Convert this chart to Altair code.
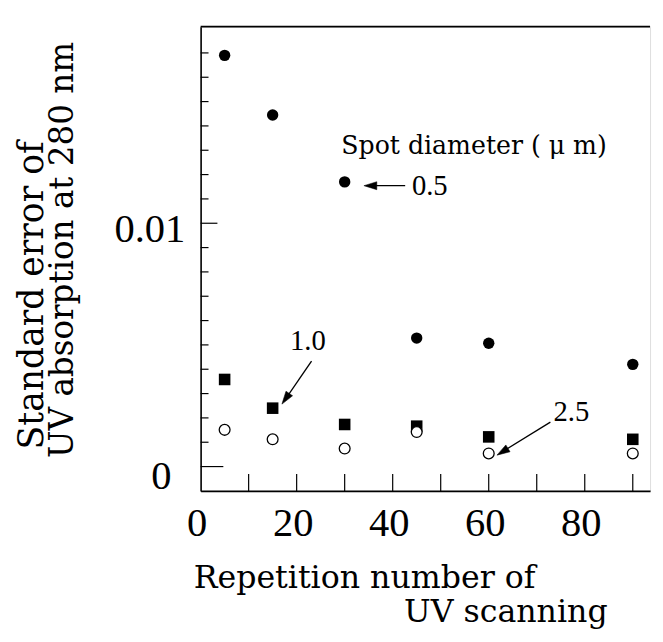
import altair as alt
import pandas as pd

# ---- data ----
reps = [5, 15, 30, 45, 60, 90]
se_05 = [0.0169, 0.01445, 0.0117, 0.00528, 0.00507, 0.0042]   # 0.5 um (filled circles)
se_10 = [0.00358, 0.0024, 0.00173, 0.00166, 0.00122, 0.00112]  # 1.0 um (filled squares)
se_25 = [0.00151, 0.00112, 0.00074, 0.00142, 0.00054, 0.00054]  # 2.5 um (open circles)

x_label_values = [0, 20, 40, 60, 80]
y_label_values = [0, 0.01]
x_tick_values = [10, 20, 30, 40, 50, 60, 70, 80, 90]
y_minor_ticks = [0.001, 0.002, 0.003, 0.004, 0.005, 0.006, 0.007, 0.008, 0.009,
                 0.011, 0.012, 0.013, 0.014, 0.015, 0.016, 0.017]
y_major_ticks = [0.01]
y_zero_tick = [0]

# annotations (data units)
ann_text = ["Spot diameter ( \u03bc m)", "0.5", "1.0", "2.5"]
ann_x = [29.3, 44.0, 18.6, 73.5]
ann_y = [0.01286, 0.01118, 0.0048, 0.00189]
ann_size = [25.5, 29, 29, 29]
ann_font = ["DejaVu Serif", "Liberation Serif", "Liberation Serif", "Liberation Serif"]

arrow_id = ["a", "a", "b", "b", "c", "c"]
arrow_x = [42.6, 35.35, 23.1, 17.7, 72.84, 62.86]
arrow_y = [0.011543, 0.011543, 0.00433, 0.002785, 0.001827, 0.000609]
head_x = [35.35, 17.7, 62.86]
head_y = [0.011543, 0.002785, 0.000609]
head_angle = [270, 214.7, 238.3]

W, H = 455, 470
X_DOMAIN = [0, 93.6]
Y_DOMAIN = [-0.001, 0.01808]

xs = alt.Scale(domain=X_DOMAIN, nice=False, zero=False)
ys = alt.Scale(domain=Y_DOMAIN, nice=False, zero=False)

x_axis = alt.Axis(
    values=x_label_values, ticks=False, grid=False, title=None,
    labelFont="Liberation Serif", labelFontSize=41, labelColor="black",
    labelPadding=13, labelOffset=-4, labelFlush=False, labelOverlap=False,
    domainColor="black", domainWidth=1.6,
)
y_axis = alt.Axis(
    values=y_label_values, format=".2~f", ticks=False, grid=False, title=None,
    labelFont="Liberation Serif", labelFontSize=41, labelColor="black",
    labelAlign="right", labelBaseline="middle", labelFlush=False, labelOverlap=False,
    labelPadding={"condition": {"test": "datum.value === 0", "value": 30}, "value": 16},
    labelOffset={"condition": {"test": "datum.value === 0", "value": 10}, "value": 6.5},
    domainColor="black", domainWidth=1.6,
)


def X(field):
    return alt.X(field, type="quantitative", scale=xs, axis=x_axis)


def Y(field):
    return alt.Y(field, type="quantitative", scale=ys, axis=y_axis)


pts = pd.DataFrame({"rep": reps, "s05": se_05, "s10": se_10, "s25": se_25})

filled = alt.Chart(pts).mark_circle(size=133, color="black", opacity=1).encode(x=X("rep"), y=Y("s05"))
squares = alt.Chart(pts).mark_square(size=137, color="black", opacity=1).encode(x=X("rep"), y=Y("s10"))
opens = alt.Chart(pts).mark_point(
    shape="circle", size=120, filled=True, fill="white", stroke="black", strokeWidth=1.3,
    opacity=1, fillOpacity=1,
).encode(x=X("rep"), y=Y("s25"))

# inward ticks
ymin = alt.Chart(pd.DataFrame({"v": y_minor_ticks})).mark_rule(color="black", strokeWidth=1.2).encode(
    y=Y("v"), x=alt.value(0), x2=alt.value(8))
ymaj = alt.Chart(pd.DataFrame({"v": y_major_ticks})).mark_rule(color="black", strokeWidth=1.2).encode(
    y=Y("v"), x=alt.value(0), x2=alt.value(17))
yzero = alt.Chart(pd.DataFrame({"v": y_zero_tick})).mark_rule(color="black", strokeWidth=1.2).encode(
    y=Y("v"), x=alt.value(0), x2=alt.value(23))
xt = alt.Chart(pd.DataFrame({"v": x_tick_values})).mark_rule(color="black", strokeWidth=1.2).encode(
    x=X("v"), y=alt.value(H), y2=alt.value(H - 17))

one = pd.DataFrame({"a": [0]})
topline = alt.Chart(one).mark_rule(color="black", strokeWidth=1.6).encode(
    x=alt.value(0), x2=alt.value(W), y=alt.value(0))

# annotations
ann_df = pd.DataFrame({"t": ann_text, "x": ann_x, "y": ann_y})
ann_layers = []
for i in range(len(ann_text)):
    ann_layers.append(
        alt.Chart(ann_df.iloc[[i]]).mark_text(
            align="left", baseline="alphabetic", font=ann_font[i], fontSize=ann_size[i], color="black"
        ).encode(x=X("x"), y=Y("y"), text="t:N")
    )

arrows = alt.Chart(pd.DataFrame({"id": arrow_id, "x": arrow_x, "y": arrow_y})).mark_line(
    color="black", strokeWidth=1.3).encode(x=X("x"), y=Y("y"), detail="id:N")
heads = alt.Chart(pd.DataFrame({"x": head_x, "y": head_y, "ang": head_angle})).mark_point(
    shape="M0,-1L0.62,1L-0.62,1Z", size=170, filled=True, fill="black", stroke="black",
    strokeWidth=0.5, opacity=1).encode(x=X("x"), y=Y("y"), angle=alt.Angle("ang:Q", scale=None))

# axis titles as text
xt1 = alt.Chart(one).mark_text(text="Repetition number of", font="DejaVu Serif", fontSize=32,
                               align="left", baseline="alphabetic", color="black").encode(
    x=alt.value(-7), y=alt.value(568))
xt2 = alt.Chart(one).mark_text(text="UV scanning", font="DejaVu Serif", fontSize=32,
                               align="center", baseline="alphabetic", color="black").encode(
    x=alt.value(309), y=alt.value(603))
yt1 = alt.Chart(one).mark_text(text="Standard error of", font="DejaVu Serif", fontSize=35,
                               align="center", baseline="alphabetic", angle=270, color="black").encode(
    x=alt.value(-160), y=alt.value(272))
yt2 = alt.Chart(one).mark_text(text="UV absorption at 280 nm", font="DejaVu Serif", fontSize=33,
                               align="center", baseline="alphabetic", angle=270, color="black").encode(
    x=alt.value(-129), y=alt.value(226))

chart = alt.layer(
    ymin, ymaj, yzero, xt, topline, filled, squares, opens, arrows, heads, *ann_layers,
    xt1, xt2, yt1, yt2,
).properties(
    width=W, height=H,
    padding={"left": 195, "top": 15, "right": 5, "bottom": 141},
    autosize=alt.AutoSizeParams(type="none"),
).configure_view(stroke=None).configure(background="white")

chart.save("out.html", embed_options={"renderer": "svg", "actions": False})
